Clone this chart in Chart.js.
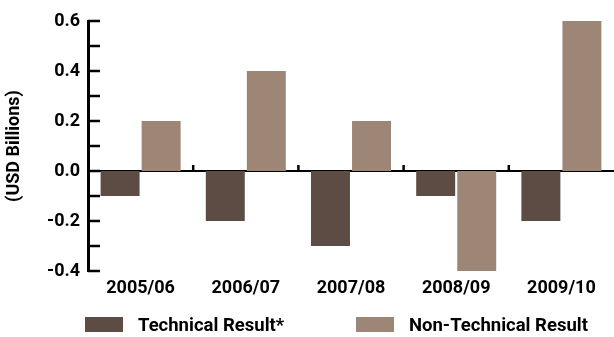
<!DOCTYPE html>
<html>
<head>
<meta charset="utf-8">
<script src="https://cdn.jsdelivr.net/npm/chart.js@4/dist/chart.umd.min.js"></script>
<style>
  html, body { margin: 0; padding: 0; background: #ffffff; }
  #wrap { width: 614px; height: 337px; }
</style>
</head>
<body>
<div id="wrap"><canvas id="c" width="614" height="337"></canvas></div>
<script>
// Fiscal years on the category axis
const categories = ['2005/06', '2006/07', '2007/08', '2008/09', '2009/10'];
// Results in USD billions
const technicalResult = [-0.1, -0.2, -0.3, -0.1, -0.2];
const nonTechnicalResult = [0.2, 0.4, 0.2, -0.4, 0.6];
// Value axis
const yMin = -0.4;
const yMax = 0.6;
const yStep = 0.1;
const seriesNames = ['Technical Result*', 'Non-Technical Result'];

const DARK = '#5d4c43';
const LIGHT = '#9e8677';
const FONT = 'Roboto, "Liberation Sans", Arial, sans-serif';
const WEIGHT = 'bold';

// Zero line, inward value ticks, category separators and a custom legend
const decorations = {
  id: 'decorations',
  beforeDatasetsDraw(chart) {
    const { ctx, chartArea, scales: { x, y } } = chart;
    const y0 = y.getPixelForValue(0);
    ctx.save();
    ctx.strokeStyle = '#000';
    // zero line
    ctx.lineWidth = 2;
    ctx.beginPath();
    ctx.moveTo(chartArea.left, y0);
    ctx.lineTo(chart.width, y0);
    ctx.stroke();
    // separators between categories, sitting on the zero line
    ctx.lineWidth = 2.5;
    for (let i = 0; i < categories.length - 1; i++) {
      const xb = (x.getPixelForValue(i) + x.getPixelForValue(i + 1)) / 2;
      ctx.beginPath();
      ctx.moveTo(xb, y0 - 1);
      ctx.lineTo(xb, y0 - 6);
      ctx.stroke();
    }
    // inward ticks on the value axis
    ctx.lineWidth = 2.5;
    y.ticks.forEach(t => {
      const py = y.getPixelForValue(t.value);
      ctx.beginPath();
      ctx.moveTo(chartArea.left, py);
      ctx.lineTo(chartArea.left + 12, py);
      ctx.stroke();
    });
    ctx.restore();
  },
  afterDraw(chart) {
    const { ctx } = chart;
    const items = [
      { text: seriesNames[0], color: DARK, x: 85 },
      { text: seriesNames[1], color: LIGHT, x: 356 }
    ];
    ctx.save();
    ctx.font = WEIGHT + ' 18.5px ' + FONT;
    ctx.textBaseline = 'middle';
    items.forEach(it => {
      ctx.fillStyle = it.color;
      ctx.fillRect(it.x, 317, 38, 15);
      ctx.fillStyle = '#000';
      ctx.fillText(it.text, it.x + 53, 326);
    });
    ctx.restore();
  }
};

new Chart(document.getElementById('c'), {
  type: 'bar',
  data: {
    labels: categories,
    datasets: [
      { label: seriesNames[0], data: technicalResult, backgroundColor: DARK,
        categoryPercentage: 0.78, barPercentage: 0.95 },
      { label: seriesNames[1], data: nonTechnicalResult, backgroundColor: LIGHT,
        categoryPercentage: 0.78, barPercentage: 0.95 }
    ]
  },
  options: {
    responsive: false,
    animation: false,
    layout: { padding: { top: 21, right: -2, bottom: 36, left: 0 } },
    plugins: {
      legend: { display: false },
      tooltip: { enabled: false }
    },
    scales: {
      x: {
        grid: { display: false, drawTicks: false },
        border: { display: false },
        ticks: { color: '#000', padding: 7, font: { family: FONT, size: 18, weight: WEIGHT } },
        afterFit(scale) { scale.height = 30; }
      },
      y: {
        min: yMin,
        max: yMax,
        grid: { display: false, drawTicks: false },
        border: { display: true, color: '#000', width: 3 },
        ticks: {
          stepSize: yStep,
          padding: 8,
          color: '#000',
          font: { family: FONT, size: 18, weight: WEIGHT },
          callback(v) {
            const n = Math.round(v * 10);
            return n % 2 === 0 ? (n / 10).toFixed(1) : '';
          }
        },
        title: {
          display: true,
          text: '(USD Billions)',
          color: '#000',
          padding: { top: 4, bottom: 0 },
          font: { family: FONT, size: 18, weight: WEIGHT }
        },
        afterFit(scale) { scale.width = 88; }
      }
    }
  },
  plugins: [decorations]
});
</script>
</body>
</html>
